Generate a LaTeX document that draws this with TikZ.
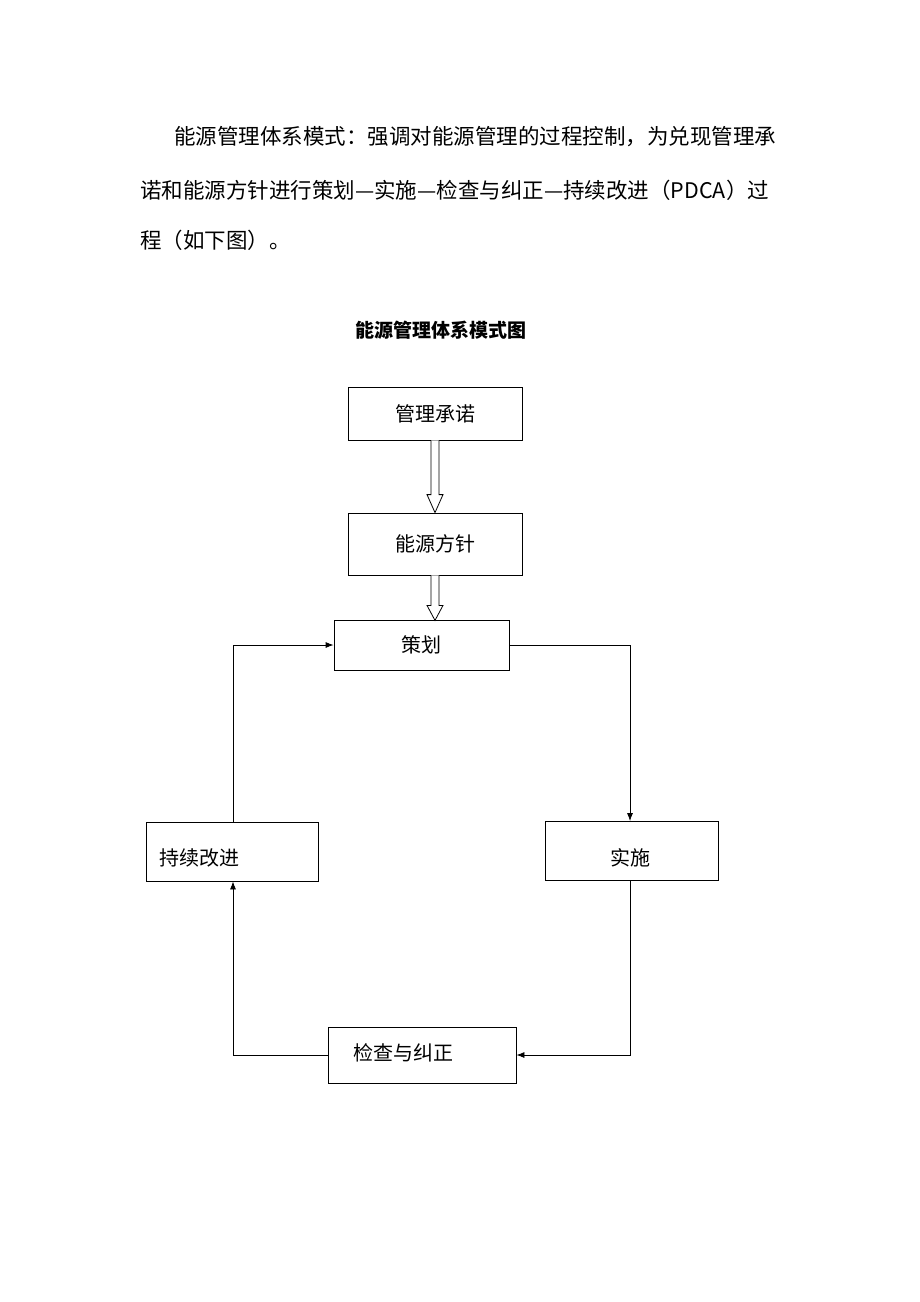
\documentclass[tikz,border=0pt]{standalone}
\usepackage{fontspec}
\setmainfont{Noto Sans CJK SC}
\usetikzlibrary{arrows.meta,calc}
\begin{document}
\begin{tikzpicture}[x=1pt,y=-1pt,
  box/.style={draw,line width=0.8pt,minimum width=#1},
  lbl/.style={font=\fontsize{20}{22}\selectfont},
  para/.style={anchor=west,inner sep=0pt,font=\fontsize{21.5}{24}\selectfont},
  conn/.style={line width=0.8pt,-{Latex[length=8pt,width=6pt]}},
  hollow/.style={line width=0.8pt,fill=white}]
\useasboundingbox[fill=white] (0,0) rectangle (920,1302);
\node[para] (p1) at (174,137) {能源管理体系模式：强调对能源管理的过程控制，为兑现管理承};
\node[para] (p2) at (140,190) {诺和能源方针进行策划—实施—检查与纠正—持续改进（PDCA）过};
\node[para] (p3) at (140,240) {程（如下图）。};
\node[font=\fontsize{19}{22}\selectfont\bfseries] (t) at (441,330) {能源管理体系模式图};
\node[draw,line width=0.8pt,minimum width=174pt,minimum height=53pt,lbl] (a) at (435,413.5) {管理承诺};
\node[draw,line width=0.8pt,minimum width=174pt,minimum height=62pt,lbl] (b) at (435,544) {能源方针};
\node[draw,line width=0.8pt,minimum width=175pt,minimum height=50pt,lbl] (c) at (421.5,645) {策划};
\node[draw,line width=0.8pt,minimum width=173pt,minimum height=59pt] (e) at (632,851) {};
\node[lbl] at (630,858) {实施};
\node[draw,line width=0.8pt,minimum width=188pt,minimum height=56pt] (f) at (422,1055) {};
\node[lbl,anchor=west] at (350,1053) {检查与纠正};
\node[draw,line width=0.8pt,minimum width=172pt,minimum height=59pt] (g) at (232,851.5) {};
\node[lbl,anchor=west] at (156,858) {持续改进};
% hollow arrows
\draw[hollow] ($(a.south)+(-4,0)$) -- ($(b.north)+(-4,-18)$) -- ($(b.north)+(-8,-18)$) -- (b.north) -- ($(b.north)+(8,-18)$) -- ($(b.north)+(4,-18)$) -- ($(a.south)+(4,0)$);
\draw[hollow] ($(b.south)+(-4,0)$) -- ($(b.south)+(-4,30)$) -- ($(b.south)+(-8,30)$) -- ($(b.south)+(0,45)$) -- ($(b.south)+(8,30)$) -- ($(b.south)+(4,30)$) -- ($(b.south)+(4,0)$);
% loop
\draw[conn] (c.east) -| (e.north -| 630,0);
\draw[conn] (e.south -| 630,0) |- (f.east);
\draw[conn] (f.west) -| (g.south -| 233,0);
\draw[conn] (g.north -| 233,0) |- (c.west);
\end{tikzpicture}
\end{document}
